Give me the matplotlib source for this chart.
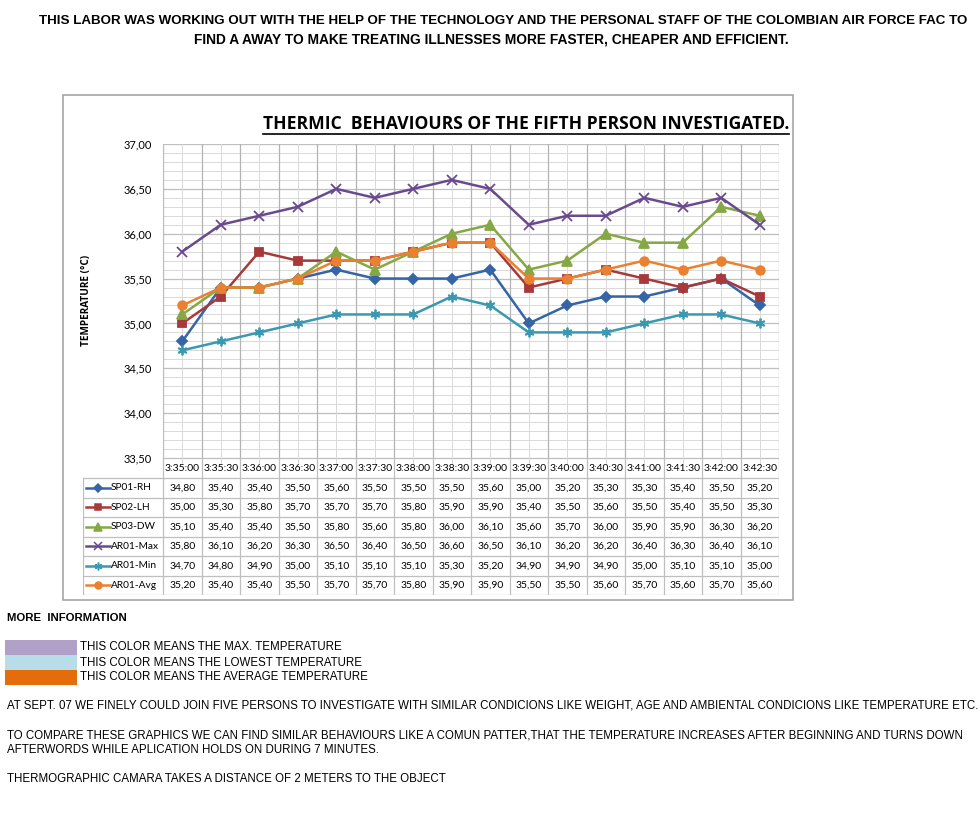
import matplotlib
matplotlib.use("Agg")
import matplotlib.pyplot as plt
from matplotlib.patches import Rectangle
from matplotlib.lines import Line2D
import numpy as np

times = ["3:35:00", "3:35:30", "3:36:00", "3:36:30", "3:37:00", "3:37:30", "3:38:00", "3:38:30",
         "3:39:00", "3:39:30", "3:40:00", "3:40:30", "3:41:00", "3:41:30", "3:42:00", "3:42:30"]
sp01_rh = [34.80, 35.40, 35.40, 35.50, 35.60, 35.50, 35.50, 35.50, 35.60, 35.00, 35.20, 35.30, 35.30, 35.40, 35.50, 35.20]
sp02_lh = [35.00, 35.30, 35.80, 35.70, 35.70, 35.70, 35.80, 35.90, 35.90, 35.40, 35.50, 35.60, 35.50, 35.40, 35.50, 35.30]
sp03_dw = [35.10, 35.40, 35.40, 35.50, 35.80, 35.60, 35.80, 36.00, 36.10, 35.60, 35.70, 36.00, 35.90, 35.90, 36.30, 36.20]
ar01_max = [35.80, 36.10, 36.20, 36.30, 36.50, 36.40, 36.50, 36.60, 36.50, 36.10, 36.20, 36.20, 36.40, 36.30, 36.40, 36.10]
ar01_min = [34.70, 34.80, 34.90, 35.00, 35.10, 35.10, 35.10, 35.30, 35.20, 34.90, 34.90, 34.90, 35.00, 35.10, 35.10, 35.00]
ar01_avg = [35.20, 35.40, 35.40, 35.50, 35.70, 35.70, 35.80, 35.90, 35.90, 35.50, 35.50, 35.60, 35.70, 35.60, 35.70, 35.60]

series_names = ["SP01-RH", "SP02-LH", "SP03-DW", "AR01-Max", "AR01-Min", "AR01-Avg"]
series_vals = [sp01_rh, sp02_lh, sp03_dw, ar01_max, ar01_min, ar01_avg]
colors = ["#3565A6", "#A8393A", "#85A844", "#6A4A8E", "#3A98B0", "#EA8130"]
markers = ["D", "s", "^", "x", (6, 2, 0), "o"]
msizes = [4.8, 6, 6.5, 7, 7, 6.2]

W, H = 980, 840
fig = plt.figure(figsize=(W / 100, H / 100), dpi=100)

def fx(px):
    return px / W

def fy(py):
    return 1 - py / H

NUM = "Lato"
TS = 7.5

# chart border
fig.patches.append(Rectangle((fx(63), fy(600)), fx(793) - fx(63), fy(95) - fy(600),
                             transform=fig.transFigure, fill=False, ec="#A6A6A6", lw=1.2))

# main plot axes
L, R, T, B = 163, 779, 144, 458
ax = fig.add_axes([fx(L), fy(B), fx(R) - fx(L), fy(T) - fy(B)])
n = len(times)
x = np.arange(n)
ax.set_xlim(-0.5, n - 0.5)
ax.set_ylim(33.5, 37.0)
for yv in np.arange(33.5, 37.0001, 0.1):
    major = abs(round(yv * 2) - yv * 2) < 1e-6
    ax.axhline(yv, color="#BFBFBF" if major else "#D9D9D9", lw=0.9 if major else 0.7, zorder=0)
for k in range(n + 1):
    ax.axvline(k - 0.5, color="#B3B3B3", lw=0.9, zorder=0)
for k in range(n):
    ax.axvline(k, color="#D9D9D9", lw=0.7, zorder=0)
for s in ax.spines.values():
    s.set_visible(False)
ax.spines["left"].set_visible(True)
ax.spines["left"].set_color("#BFBFBF")
ax.set_xticks([])
yt = np.arange(33.5, 37.01, 0.5)
ax.set_yticks(yt)
ax.set_yticklabels([f"{v:.2f}".replace(".", ",") for v in yt], fontsize=8, family=NUM)
ax.tick_params(axis="y", length=0, pad=8)

for vals, c, m, ms in zip(series_vals, colors, markers, msizes):
    ax.plot(x, vals, color=c, lw=1.8, marker=m, ms=ms, mfc=c, mec=c, mew=1.3, zorder=3)

# title with underline
title = fig.text(fx(789), fy(124), "THERMIC  BEHAVIOURS OF THE FIFTH PERSON INVESTIGATED.",
                 ha="right", va="center", fontsize=12.6, fontweight="bold", family="Open Sans")
fig.canvas.draw()
bb = title.get_window_extent(renderer=fig.canvas.get_renderer())
fig.add_artist(Line2D([bb.x0 / W, bb.x1 / W], [fy(133.5), fy(133.5)], color="black", lw=1.2,
                      transform=fig.transFigure))

fig.text(fx(87), fy(300), "TEMPERATURE (°C)", rotation=90, ha="center", va="center",
         fontsize=7.2, fontweight="bold", family="Open Sans")

# data table axes
TL, TB = 83, 595
tax = fig.add_axes([fx(TL), fy(TB), fx(R) - fx(TL), fy(B) - fy(TB)])
cw = (R - L) / n
xl = -0.5 - (L - TL) / cw
tax.set_xlim(xl, n - 0.5)
tax.set_ylim(TB - B, 0)
tax.axis("off")
hh = 20
rh = (TB - B - hh) / 6
lc = "#BFBFBF"
tax.plot([-0.5, n - 0.5], [0, 0], color=lc, lw=0.9)
for i in range(7):
    yy = hh + i * rh
    tax.plot([xl, n - 0.5], [yy, yy], color=lc, lw=0.9)
for k in range(n + 1):
    tax.plot([k - 0.5, k - 0.5], [0, TB - B], color=lc, lw=0.9)
tax.plot([xl, xl], [hh, TB - B], color=lc, lw=0.9)
for k in range(n):
    tax.plot([k, k], [0, 5], color="#D9D9D9", lw=0.7)
for k, t in enumerate(times):
    tax.text(k, hh / 2 + 1, t, ha="center", va="center", fontsize=TS, family=NUM)
for i, (name, vals, c, m, ms) in enumerate(zip(series_names, series_vals, colors, markers, msizes)):
    yc = hh + (i + 0.5) * rh
    x0 = xl + 3 / cw
    x1 = xl + 27 / cw
    tax.plot([x0, x1], [yc, yc], color=c, lw=1.8)
    tax.plot([(x0 + x1) / 2], [yc], color=c, marker=m, ms=ms * 0.8, mfc=c, mec=c, mew=1.1)
    tax.text(xl + 28 / cw, yc, name, ha="left", va="center", fontsize=7.3, family=NUM)
    for k, v in enumerate(vals):
        tax.text(k, yc, f"{v:.2f}".replace(".", ","), ha="center", va="center",
                 fontsize=TS, family=NUM)

# header text
SANS = "Liberation Sans"
fig.text(fx(503), fy(21), "THIS LABOR WAS WORKING OUT WITH THE HELP OF THE TECHNOLOGY AND THE PERSONAL STAFF OF THE COLOMBIAN AIR FORCE FAC TO",
         ha="center", va="center", fontsize=9.6, fontweight="bold", family=SANS)
fig.text(fx(491), fy(40), "FIND A AWAY TO MAKE TREATING ILLNESSES MORE FASTER, CHEAPER AND EFFICIENT.",
         ha="center", va="center", fontsize=9.9, fontweight="bold", family=SANS)

# bottom info
BS = 8.3
fig.text(fx(7), fy(618), "MORE  INFORMATION", ha="left", va="center", fontsize=8.2,
         fontweight="bold", family=SANS)
sw_colors = ["#B1A0C7", "#B7DEE8", "#E46C0A"]
sw_texts = ["THIS COLOR MEANS THE MAX. TEMPERATURE", "THIS COLOR MEANS THE LOWEST TEMPERATURE",
            "THIS COLOR MEANS THE AVERAGE TEMPERATURE"]
for i, (c, t) in enumerate(zip(sw_colors, sw_texts)):
    top = 640 + i * 15
    fig.patches.append(Rectangle((fx(5), fy(top + 15)), fx(77) - fx(5), fy(top) - fy(top + 15),
                                 transform=fig.transFigure, color=c, lw=0))
    fig.text(fx(80), fy(top + 7.5), t, ha="left", va="center", fontsize=BS, family=SANS)

lines = [
    (706, "AT SEPT. 07 WE FINELY COULD JOIN FIVE PERSONS TO INVESTIGATE WITH SIMILAR CONDICIONS LIKE WEIGHT, AGE AND AMBIENTAL CONDICIONS LIKE TEMPERATURE ETC."),
    (735, "TO COMPARE THESE GRAPHICS WE CAN FIND SIMILAR BEHAVIOURS LIKE A COMUN PATTER,THAT THE TEMPERATURE INCREASES AFTER BEGINNING AND TURNS DOWN"),
    (750, "AFTERWORDS WHILE APLICATION HOLDS ON DURING 7 MINUTES."),
    (779, "THERMOGRAPHIC CAMARA TAKES A DISTANCE OF 2 METERS TO THE OBJECT"),
]
for py, t in lines:
    fig.text(fx(7), fy(py), t, ha="left", va="center", fontsize=BS, family=SANS)

fig.savefig("out.png", dpi=100)
